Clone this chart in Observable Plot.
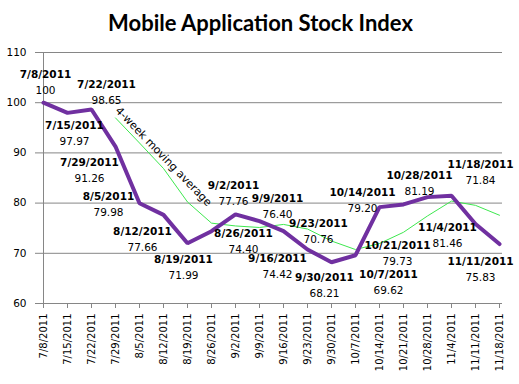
<!DOCTYPE html>
<html>
<head>
<meta charset="utf-8">
<script src="https://cdn.jsdelivr.net/npm/d3@7"></script>
<script src="https://cdn.jsdelivr.net/npm/@observablehq/plot@0.6"></script>
<style>
  html, body { margin: 0; padding: 0; background: #fff; }
  #wrap { width: 519px; height: 384px; position: relative; overflow: hidden; }
  #title { height: 40px; line-height: 46px; text-align: center; font-family: Lato, "Noto Sans", sans-serif; font-weight: bold; font-size: 22px; color: #000; padding-left: 2px; }
</style>
</head>
<body>
<div id="wrap">
  <div id="title">Mobile Application Stock Index</div>
  <div id="chart"></div>
</div>
<script>
const dates = ["7/8/2011","7/15/2011","7/22/2011","7/29/2011","8/5/2011","8/12/2011","8/19/2011","8/26/2011","9/2/2011","9/9/2011","9/16/2011","9/23/2011","9/30/2011","10/7/2011","10/14/2011","10/21/2011","10/28/2011","11/4/2011","11/11/2011","11/18/2011"];
const index = [100,97.97,98.65,91.26,79.98,77.66,71.99,74.40,77.76,76.40,74.42,70.76,68.21,69.62,79.20,79.73,81.19,81.46,75.83,71.84];
const movingAvg = [null,null,null,96.97,91.97,86.89,80.22,76.01,75.45,75.14,75.75,74.84,72.45,70.75,71.95,74.19,77.44,80.40,79.55,77.58];
const valueLabels = ["100","97.97","98.65","91.26","79.98","77.66","71.99","74.40","77.76","76.40","74.42","70.76","68.21","69.62","79.20","79.73","81.19","81.46","75.83","71.84"];
const yTicks = [60,70,80,90,100,110];

// label nudges in pixels relative to each point (layout, not data)
const nudge = [[2,-28],[7,13],[15,-25],[-26,16],[-31,-7],[-21,17],[-4,16],[32,2],[-2,-29],[18,-23],[-6,28],[11,-26],[-7,15],[33,19],[-17,-14],[-6,41],[-8,-22],[-4,32],[5,38],[-19,-79]];

const rows = dates.map((d,i) => ({date: d, v: index[i], ma: movingAvg[i], lab: valueLabels[i]}));
const maRows = rows.filter(r => r.ma != null);

const font = "DejaVu Sans, Verdana, sans-serif";
const labelMarks = [];
rows.forEach((r, i) => {
  labelMarks.push(Plot.text([r], {x: "date", y: "v", text: "date", dx: nudge[i][0], dy: nudge[i][1], fontWeight: "bold", fontSize: 10.5, fill: "#000", fontFamily: font}));
  labelMarks.push(Plot.text([r], {x: "date", y: "v", text: "lab", dx: nudge[i][0], dy: nudge[i][1] + 16, fontSize: 10.5, fill: "#000", fontFamily: font}));
});

const chart = Plot.plot({
  width: 519,
  height: 344,
  marginTop: 12,
  marginBottom: 81,
  marginLeft: 40,
  marginRight: 17,
  style: {fontFamily: font, fontSize: "10px", color: "#000", background: "transparent"},
  x: {type: "point", domain: dates, padding: 0, label: null},
  y: {domain: [60, 110], label: null},
  marks: [
    Plot.gridY(yTicks, {stroke: "#868686", strokeOpacity: 1, strokeWidth: 1}),
    Plot.ruleX([dates[0]], {stroke: "#868686", y1: 60, y2: 110}),
    Plot.ruleY([60], {stroke: "#868686"}),
    Plot.axisY(yTicks, {tickSize: 5, tickPadding: 9, stroke: "#868686", fill: "#000", fontSize: 10.5, label: null}),
    Plot.axisX(dates, {tickSize: 5, tickPadding: 5, tickRotate: -90, stroke: "#868686", fill: "#000", fontSize: 10, label: null}),
    Plot.line(maRows, {x: "date", y: "ma", stroke: "#3ee84f", strokeWidth: 1}),
    Plot.line(rows, {x: "date", y: "v", stroke: "#7030a0", strokeWidth: 4, strokeLinejoin: "miter"}),
    Plot.text([{date: "8/12/2011", ma: 86.89}], {x: "date", y: "ma", text: () => "4-week moving average", rotate: 46, dx: 0, dy: -12, fontSize: 11, fill: "#000", fontFamily: font}),
    ...labelMarks
  ]
});
document.getElementById("chart").appendChild(chart);
</script>
</body>
</html>
